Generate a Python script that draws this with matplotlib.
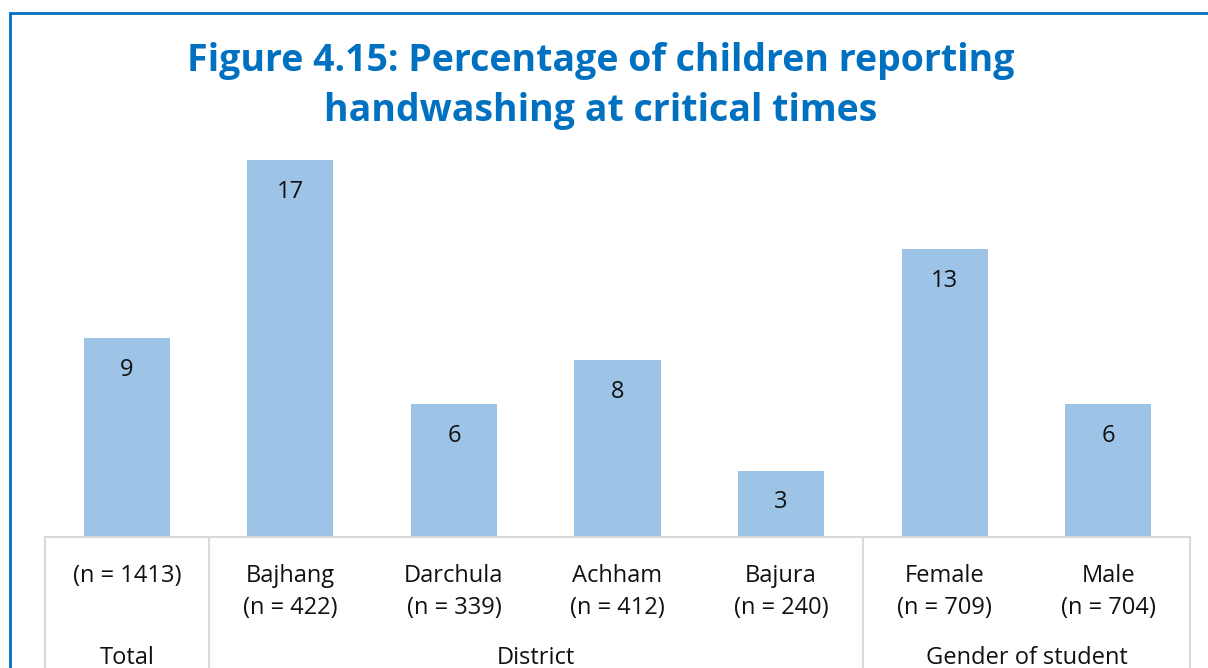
import matplotlib
matplotlib.use("Agg")
import matplotlib.pyplot as plt
from matplotlib.transforms import blended_transform_factory
from matplotlib.lines import Line2D
from matplotlib.patches import Rectangle

# Data
categories = ["", "Bajhang", "Darchula", "Achham", "Bajura", "Female", "Male"]
sample_sizes = ["(n = 1413)", "(n = 422)", "(n = 339)", "(n = 412)", "(n = 240)", "(n = 709)", "(n = 704)"]
values = [9, 17, 6, 8, 3, 13, 6]
groups = ["Total", "District", "Gender of student"]
group_sizes = [1, 4, 2]

W, H = 1208, 668
DPI = 100
fig = plt.figure(figsize=(W / DPI, H / DPI), dpi=DPI)
fig.patch.set_facecolor("white")

plt.rcParams["font.family"] = ["Open Sans", "DejaVu Sans"]

def fy(py):
    return 1 - py / H

def fx(px):
    return px / W

label_size = 17
text_color = "#111111"

ax_left, ax_right = 45, 1190
ax_bottom, ax_top = 537, 138
ax = fig.add_axes([fx(ax_left), fy(ax_bottom), fx(ax_right) - fx(ax_left), fy(ax_top) - fy(ax_bottom)])

bar_color = "#9DC3E6"
x = list(range(len(values)))
bars = ax.bar(x, values, width=0.527, color=bar_color, zorder=2)
ax.set_xlim(-0.5, len(values) - 0.5)
ax.set_ylim(0, 18)
ax.axis("off")

# Value labels inside the top of each bar
for xi, v in zip(x, values):
    ax.annotate(f"{v}", xy=(xi, v), xytext=(0, -38), textcoords="offset pixels",
                ha="center", va="baseline", fontsize=label_size, color=text_color)

# Multi-level category axis
line_color = "#D9D9D9"
fig.add_artist(Line2D([fx(ax_left), fx(ax_right)], [fy(ax_bottom), fy(ax_bottom)],
                      color=line_color, lw=1.5, transform=fig.transFigure))
trans = blended_transform_factory(ax.transData, fig.transFigure)
bounds = [-0.5]
for s in group_sizes:
    bounds.append(bounds[-1] + s)
for b in bounds:
    fig.add_artist(Line2D([b, b], [fy(ax_bottom), fy(H + 5)], color=line_color, lw=1.5,
                          transform=trans, clip_on=False))

for xi, (name, n) in enumerate(zip(categories, sample_sizes)):
    if name:
        ax.text(xi, fy(582), name, transform=trans, ha="center", va="baseline",
                fontsize=label_size, color=text_color)
        ax.text(xi, fy(614), n, transform=trans, ha="center", va="baseline",
                fontsize=label_size, color=text_color)
    else:
        ax.text(xi, fy(582), n, transform=trans, ha="center", va="baseline",
                fontsize=label_size, color=text_color)

for g, lo, hi in zip(groups, bounds[:-1], bounds[1:]):
    ax.text((lo + hi) / 2, fy(664), g, transform=trans, ha="center", va="baseline",
            fontsize=label_size, color=text_color)

# Title
title_color = "#0070C0"
fig.text(fx(601), fy(61), "Figure 4.15: Percentage of children reporting", ha="center", va="center",
         fontsize=27, fontweight="bold", color=title_color)
fig.text(fx(601), fy(111), "handwashing at critical times", ha="center", va="center",
         fontsize=27, fontweight="bold", color=title_color)

# Frame around the figure
fig.add_artist(Rectangle((fx(10), fy(H + 20)), fx(W + 20) - fx(10), fy(13) - fy(H + 20),
                         fill=False, edgecolor="#0070C0", lw=2, transform=fig.transFigure))

fig.savefig("out.png", dpi=DPI, facecolor="white")
